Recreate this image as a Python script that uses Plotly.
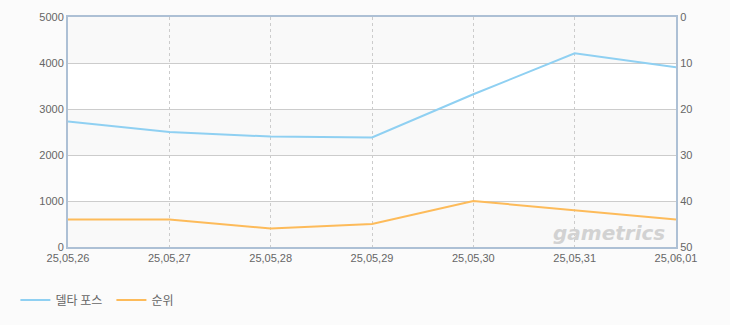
import plotly.graph_objects as go

dates = ["25,05,26", "25,05,27", "25,05,28", "25,05,29", "25,05,30", "25,05,31", "25,06,01"]
delta_force = [2730, 2500, 2400, 2380, 3320, 4210, 3910]
rank = [44, 44, 46, 45, 40, 42, 44]
left_ticks = [0, 1000, 2000, 3000, 4000, 5000]
right_ticks = [0, 10, 20, 30, 40, 50]

BLUE = "#8fd0f2"
ORANGE = "#fdbb5a"
FRAME = "#adc0d5"
GRID = "#cccccc"
TXT = "#666666"

fig = go.Figure()
fig.add_trace(go.Scatter(x=dates, y=delta_force, name="델타 포스", mode="lines",
                         line=dict(color=BLUE, width=2), yaxis="y"))
fig.add_trace(go.Scatter(x=dates, y=rank, name="순위", mode="lines",
                         line=dict(color=ORANGE, width=2), yaxis="y2"))

shapes = []
for i in range(0, 5, 2):
    shapes.append(dict(type="rect", xref="paper", yref="y", x0=0, x1=1,
                       y0=left_ticks[i], y1=left_ticks[i + 1],
                       fillcolor="#f9f9f9", line=dict(width=0), layer="below"))
for i in range(1, 4, 2):
    shapes.append(dict(type="rect", xref="paper", yref="y", x0=0, x1=1,
                       y0=left_ticks[i], y1=left_ticks[i + 1],
                       fillcolor="#ffffff", line=dict(width=0), layer="below"))

fig.update_layout(
    width=730, height=325,
    margin=dict(l=68, r=54, t=17, b=77),
    paper_bgcolor="#fbfbfb", plot_bgcolor="#fbfbfb",
    font=dict(family="Liberation Sans, Arial, sans-serif", size=11, color=TXT),
    shapes=shapes,
    showlegend=True,
    legend=dict(orientation="h", x=-0.0865, y=-0.225, xanchor="left", yanchor="middle",
                font=dict(family="Noto Sans CJK KR, sans-serif", size=12, color=TXT),
                bgcolor="rgba(0,0,0,0)", entrywidthmode="pixels", entrywidth=51),
    xaxis=dict(type="category", range=[0, 6], showgrid=True, gridcolor=GRID,
               griddash="3px,3px", gridwidth=1, showline=True, linecolor=FRAME, linewidth=2,
               mirror=True, ticks="", tickfont=dict(size=11, color=TXT), zeroline=False),
    yaxis=dict(range=[0, 5000], tickvals=left_ticks, showgrid=True, gridcolor=GRID,
               gridwidth=1, showline=True, linecolor=FRAME, linewidth=2, mirror=True,
               ticks="", zeroline=False, tickfont=dict(size=11, color=TXT)),
    yaxis2=dict(range=[50, 0], tickvals=right_ticks, overlaying="y", side="right",
                showgrid=False, showline=True, linecolor=FRAME, linewidth=2, ticks="",
                zeroline=False, tickfont=dict(size=11, color=TXT)),
    annotations=[dict(text="<b><i>gametrics</i></b>", xref="paper", yref="paper",
                      x=0.985, y=0.0, xanchor="right", yanchor="bottom", showarrow=False,
                      font=dict(family="DejaVu Sans, sans-serif", size=20, color="#d2d2d2"))],
)

fig.write_html("out.html")
